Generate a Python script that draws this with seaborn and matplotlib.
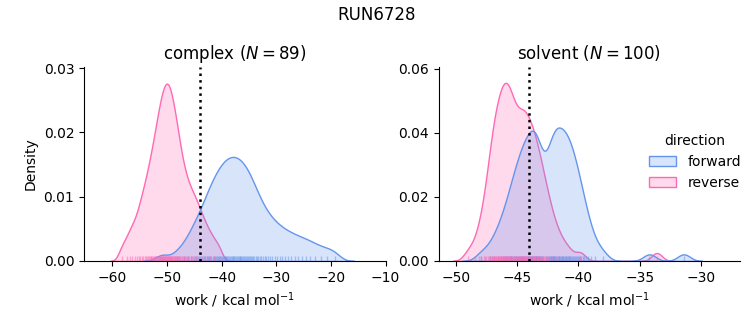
import numpy as np
import pandas as pd
import matplotlib
matplotlib.use("Agg")
import matplotlib.pyplot as plt
import seaborn as sns

# ---- data (work values, kcal/mol) ----
complex_forward = [
    -50.92, -48.25, -46.97, -46.15, -45.6, -45.11, -44.7, -44.29, -43.96, -43.63,
    -43.3, -43.04, -42.78, -42.54, -42.29, -42.08, -41.87, -41.66, -41.45, -41.25,
    -41.06, -40.87, -40.69, -40.5, -40.32, -40.15, -39.98, -39.81, -39.63, -39.46,
    -39.3, -39.14, -38.98, -38.82, -38.66, -38.49, -38.33, -38.17, -38.01, -37.86,
    -37.7, -37.53, -37.37, -37.21, -37.05, -36.89, -36.73, -36.57, -36.4, -36.23,
    -36.06, -35.89, -35.73, -35.55, -35.37, -35.19, -35.0, -34.82, -34.63, -34.42,
    -34.21, -34.0, -33.79, -33.54, -33.3, -33.03, -32.76, -32.45, -32.14, -31.83,
    -31.47, -31.1, -30.73, -30.3, -29.87, -29.41, -28.92, -28.4, -27.86, -27.27,
    -26.67, -26.03, -25.33, -24.6, -23.83, -22.95, -21.9, -20.7, -19.3,
]
complex_reverse = [
    -58.3, -57.4, -56.8, -56.35, -55.88, -55.51, -55.14, -54.87, -54.62, -54.36,
    -54.12, -53.93, -53.73, -53.53, -53.34, -53.16, -53.01, -52.86, -52.7, -52.56,
    -52.41, -52.26, -52.14, -52.02, -51.9, -51.78, -51.67, -51.55, -51.43, -51.32,
    -51.21, -51.12, -51.02, -50.92, -50.82, -50.73, -50.63, -50.52, -50.43, -50.34,
    -50.25, -50.16, -50.06, -49.97, -49.88, -49.8, -49.71, -49.61, -49.52, -49.42,
    -49.32, -49.22, -49.12, -49.02, -48.91, -48.81, -48.72, -48.62, -48.49, -48.37,
    -48.24, -48.12, -47.99, -47.87, -47.76, -47.6, -47.43, -47.27, -47.1, -46.93,
    -46.76, -46.56, -46.35, -46.14, -45.92, -45.71, -45.46, -45.22, -44.97, -44.72,
    -44.43, -44.13, -43.82, -43.46, -43.06, -42.6, -42.05, -41.4, -40.5,
]
solvent_forward = [
    -47.93, -47.24, -46.86, -46.58, -46.35, -46.16, -46.0, -45.85, -45.71, -45.6,
    -45.49, -45.39, -45.28, -45.19, -45.1, -45.02, -44.94, -44.85, -44.77, -44.7,
    -44.63, -44.56, -44.49, -44.42, -44.35, -44.28, -44.21, -44.15, -44.08, -44.02,
    -43.95, -43.89, -43.82, -43.76, -43.69, -43.62, -43.56, -43.49, -43.42, -43.45,
    -43.39, -43.32, -43.25, -43.18, -43.11, -43.04, -42.97, -42.9, -42.62, -42.55,
    -42.48, -42.41, -42.34, -42.27, -42.2, -42.12, -42.06, -42.09, -42.02, -41.95,
    -41.88, -41.81, -41.75, -41.68, -41.62, -41.56, -41.49, -41.43, -41.37, -41.3,
    -41.24, -41.18, -41.11, -41.05, -40.99, -40.93, -40.86, -40.8, -40.74, -40.66,
    -40.59, -40.52, -40.45, -40.38, -40.31, -40.23, -40.14, -40.05, -39.95, -39.86,
    -39.77, -39.64, -39.51, -39.37, -39.21, -38.95, -38.64, -38.02, -34.2, -31.4,
]
solvent_reverse = [
    -48.99, -48.41, -48.12, -47.91, -47.73, -47.62, -47.51, -47.4, -47.29, -47.2,
    -47.13, -47.06, -47.06, -46.99, -46.92, -46.85, -46.79, -46.74, -46.69, -46.64,
    -46.58, -46.53, -46.48, -46.43, -46.38, -46.32, -46.28, -46.23, -46.19, -46.14,
    -46.1, -46.05, -46.01, -45.97, -45.92, -45.88, -45.83, -45.79, -45.74, -45.69,
    -45.64, -45.6, -45.55, -45.5, -45.46, -45.41, -45.36, -45.31, -45.26, -45.21,
    -45.16, -45.11, -44.99, -44.94, -44.89, -44.84, -44.79, -44.73, -44.68, -44.63,
    -44.57, -44.52, -44.46, -44.41, -44.36, -44.3, -44.25, -44.19, -44.13, -44.07,
    -44.02, -43.96, -43.9, -43.84, -43.78, -43.72, -43.65, -43.59, -43.52, -43.45,
    -43.39, -43.32, -43.26, -43.17, -43.09, -43.0, -42.92, -42.83, -42.75, -42.62,
    -42.5, -42.37, -42.25, -42.06, -41.86, -41.6, -41.27, -40.77, -39.85, -33.6,
]
phases = ["complex", "solvent"]
directions = ["forward", "reverse"]
reference_work = -44.0
run_name = "RUN6728"

palette = {"forward": "cornflowerblue", "reverse": "hotpink"}

rows = []
for phase, fwd, rev in [("complex", complex_forward, complex_reverse),
                        ("solvent", solvent_forward, solvent_reverse)]:
    for direction, vals in [("forward", fwd), ("reverse", rev)]:
        for v in vals:
            rows.append((phase, direction, v))
df = pd.DataFrame(rows, columns=["phase", "direction", "work"])

fig, axes = plt.subplots(1, 2, figsize=(7.53, 3.25), dpi=100)
fig.subplots_adjust(left=0.1116, right=0.983, bottom=0.197, top=0.794, wspace=0.176)

bw_adj = {"complex": 0.45, "solvent": 0.5}
xlims = {"complex": (-65.2, -10.0), "solvent": (-51.4, -26.8)}
ylims = {"complex": (0, 0.0302), "solvent": (0, 0.0606)}

for ax, phase in zip(axes, phases):
    # densities normalised over all runs' samples (both phases)
    d = df.copy()
    d["direction"] = d["direction"].where(d["phase"] == phase, "other")
    n = int((df["phase"] == phase).sum() // 2)
    sns.kdeplot(data=d, x="work", hue="direction", hue_order=directions,
                palette=palette, fill=True, common_norm=True,
                bw_adjust=bw_adj[phase], linewidth=1, ax=ax,
                legend=(phase == "solvent"))
    sns.rugplot(data=df[df["phase"] == phase], x="work", hue="direction",
                hue_order=directions, palette=palette, height=0.025,
                alpha=0.5, linewidth=1, ax=ax, legend=False)
    ax.axvline(reference_work, color="black", linestyle=":", linewidth=1.8)
    ax.set_title(f"{phase} ($N = {n}$)")
    ax.set_xlabel("work / kcal mol$^{-1}$")
    ax.set_xlim(*xlims[phase])
    ax.set_ylim(*ylims[phase])
    if phase == "solvent":
        ax.set_ylabel("")

sns.despine(fig=fig)
sns.move_legend(axes[1], "center left", bbox_to_anchor=(0.655, 0.51), frameon=False)
fig.suptitle(run_name, fontsize=12)

fig.savefig("out.png", dpi=100)
